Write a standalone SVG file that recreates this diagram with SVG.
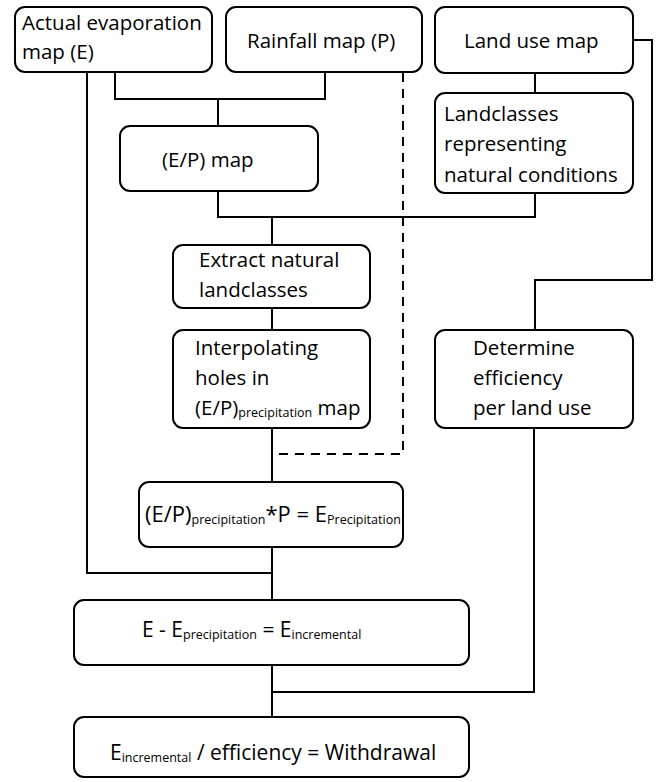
<svg xmlns="http://www.w3.org/2000/svg" width="656" height="782" viewBox="0 0 656 782">
<style>
.box{fill:#fff;stroke:#000;stroke-width:2}
.ln{fill:none;stroke:#000;stroke-width:2}
.dash{fill:none;stroke:#000;stroke-width:2;stroke-dasharray:9,7}
text{font-family:"Open Sans","Noto Sans",sans-serif;font-size:20.5px;fill:#000}
.sub{font-size:12.5px}
.f{font-size:22px}
.g{font-size:21px}
</style>
<rect width="656" height="782" fill="#fff"/>
<g id="connectors">
<path class="ln" d="M87,72 V573 H272"/>
<path class="ln" d="M115,72 V99 H325 V72"/>
<path class="ln" d="M218,99 V126"/>
<path class="dash" d="M403,73 V454 H272"/>
<path class="ln" d="M633,40 H652 V280 H535 V330"/>
<path class="ln" d="M535,73 V93"/>
<path class="ln" d="M218,191 V217 H535 V193"/>
<path class="ln" d="M272,217 V245"/>
<path class="ln" d="M272,308 V330"/>
<path class="ln" d="M272,428 V482"/>
<path class="ln" d="M272,547 V600"/>
<path class="ln" d="M272,665 V717"/>
<path class="ln" d="M534,428 V692 H272"/>
</g>
<g id="n-evap"><rect class="box" x="15" y="7" width="197" height="65" rx="10"/>
<text x="22" y="30">Actual evaporation</text><text x="22" y="59">map (E)</text></g>
<g id="n-rain"><rect class="box" x="226" y="7" width="196" height="65" rx="10"/>
<text x="247" y="48">Rainfall map (P)</text></g>
<g id="n-landuse"><rect class="box" x="435" y="7" width="198" height="66" rx="10"/>
<text x="464" y="48">Land use map</text></g>
<g id="n-landclasses"><rect class="box" x="435" y="93" width="198" height="100" rx="10"/>
<text x="444" y="121">Landclasses</text><text x="444" y="151">representing</text><text x="444" y="182">natural conditions</text></g>
<g id="n-ep"><rect class="box" x="120" y="126" width="198" height="65" rx="10"/>
<text x="162" y="167">(E/P) map</text></g>
<g id="n-extract"><rect class="box" x="173" y="245" width="197" height="63" rx="10"/>
<text x="199" y="267">Extract natural</text><text x="199" y="297">landclasses</text></g>
<g id="n-interp"><rect class="box" x="173" y="330" width="197" height="98" rx="10"/>
<text x="195" y="355">Interpolating</text><text x="195" y="385">holes in</text>
<text x="195" y="415">(E/P)<tspan class="sub" dy="2">precipitation</tspan><tspan dy="-2"> map</tspan></text></g>
<g id="n-determine"><rect class="box" x="435" y="330" width="198" height="98" rx="10"/>
<text x="473" y="355">Determine</text><text x="473" y="385">efficiency</text><text x="473" y="415">per land use</text></g>
<g id="n-f1"><rect class="box" x="139" y="482" width="264" height="65" rx="10"/>
<text class="f" x="145" y="522">(E/P)<tspan class="sub" dy="2">precipitation</tspan><tspan dy="-2">*P = E</tspan><tspan class="sub" dy="2">Precipitation</tspan></text></g>
<g id="n-f2"><rect class="box" x="74" y="600" width="395" height="65" rx="10"/>
<text class="g" x="142" y="637">E - E<tspan class="sub" dy="2">precipitation</tspan><tspan dy="-2"> = E</tspan><tspan class="sub" dy="2">incremental</tspan></text></g>
<g id="n-f3"><rect class="box" x="74" y="717" width="395" height="60" rx="10"/>
<text class="g" x="110" y="760">E<tspan class="sub" dy="2">incremental</tspan><tspan dy="-2"> / efficiency = Withdrawal</tspan></text></g>
</svg>
